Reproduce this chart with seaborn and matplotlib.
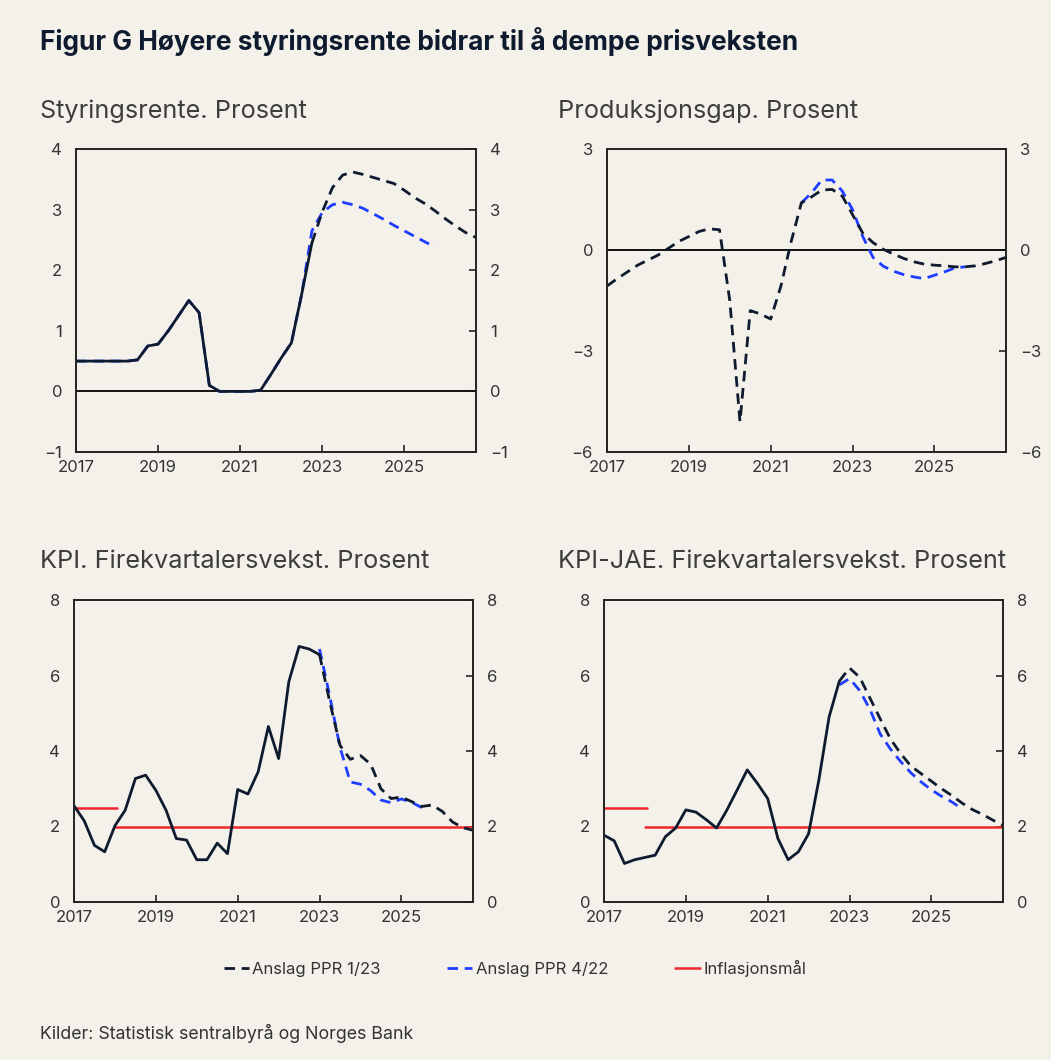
import matplotlib
matplotlib.use("Agg")
import matplotlib.pyplot as plt
from matplotlib.lines import Line2D
import pandas as pd
import seaborn as sns

# quarterly time axis 2017Q1 - 2026Q4
quarters = pd.period_range("2017Q1", "2026Q4", freq="Q")
t = quarters.year + (quarters.quarter - 1) / 4

# Styringsrente
rate_hist = [0.5, 0.5, 0.5, 0.5, 0.5, 0.5, 0.52, 0.75, 0.78, 1.0, 1.25, 1.5,
             1.3, 0.1, 0.0, 0.0, 0.0, 0.0, 0.02, 0.28, 0.55, 0.8, 1.6, 2.45]
rate_ppr123 = [2.45, 2.96, 3.36, 3.57, 3.62, 3.58, 3.53, 3.48, 3.43, 3.32,
               3.2, 3.1, 2.98, 2.85, 2.73, 2.62, 2.54]
rate_ppr422 = [0.5, 0.5, 0.5, 0.5, 0.5, 0.5, 0.52, 0.75, 0.78, 1.0, 1.25, 1.5,
               1.3, 0.1, 0.0, 0.0, 0.0, 0.0, 0.02, 0.28, 0.55, 0.8, 1.6, 2.65,
               2.95, 3.08, 3.12, 3.08, 3.02, 2.93, 2.84, 2.74, 2.65, 2.56, 2.47, 2.38]

# Produksjonsgap
gap_ppr123 = [-1.07, -0.85, -0.65, -0.45, -0.3, -0.15, 0.05, 0.25, 0.4, 0.55,
              0.63, 0.6, -1.5, -5.1, -1.8, -1.9, -2.05, -1.07, 0.25, 1.4,
              1.58, 1.78, 1.8, 1.6, 1.05, 0.5, 0.22, 0.02, -0.12, -0.25,
              -0.35, -0.42, -0.45, -0.47, -0.5, -0.5, -0.47, -0.4, -0.32, -0.22]
gap_ppr422 = [1.4, 1.7, 2.08, 2.08, 1.75, 1.2, 0.4, -0.22, -0.48, -0.63,
              -0.73, -0.8, -0.85, -0.75, -0.65, -0.53, -0.5]

# KPI
cpi_hist = [2.55, 2.15, 1.5, 1.33, 2.02, 2.43, 3.27, 3.36, 2.96, 2.43, 1.68,
            1.64, 1.12, 1.12, 1.56, 1.28, 2.98, 2.86, 3.45, 4.65, 3.8, 5.84,
            6.77, 6.7, 6.55]
cpi_ppr123 = [6.55, 5.3, 4.15, 3.78, 3.88, 3.65, 3.0, 2.74, 2.78, 2.66, 2.53,
              2.57, 2.4, 2.12, 1.97, 1.9]
cpi_ppr422 = [6.7, 5.45, 4.1, 3.18, 3.12, 2.95, 2.7, 2.63, 2.73, 2.64, 2.5]

# KPI-JAE
core_hist = [1.77, 1.62, 1.02, 1.12, 1.18, 1.24, 1.73, 1.96, 2.44, 2.38, 2.18,
             1.96, 2.43, 2.96, 3.5, 3.14, 2.74, 1.68, 1.12, 1.33, 1.81, 3.23,
             4.9, 5.85]
core_ppr123 = [5.85, 6.2, 5.95, 5.4, 4.85, 4.32, 3.93, 3.6, 3.4, 3.2, 3.0,
               2.82, 2.62, 2.45, 2.32, 2.17, 2.03]
core_ppr422 = [5.75, 5.92, 5.6, 5.1, 4.45, 4.05, 3.72, 3.42, 3.18, 2.97, 2.8,
               2.65, 2.47]

# Inflasjonsmål
target_start = [2017.0, 2018.0]
target_end = [2018.05, 2026.75]
target_value = [2.5, 2.0]

BG = "#f4f1ea"
NAVY = "#0e1a2e"
BLUE = "#1f3dff"
RED = "#f0282d"
TXT = "#333333"
DASH = (0, (3.8, 2.4))

sns.set_theme(style="ticks")
plt.rcParams["font.family"] = ["Inter", "DejaVu Sans"]
plt.rcParams["axes.facecolor"] = BG
plt.rcParams["figure.facecolor"] = BG


def qline(ax, first, values, color, dashed):
    i0 = quarters.get_loc(pd.Period(first, "Q"))
    x = t[i0:i0 + len(values)]
    sns.lineplot(x=x, y=values, ax=ax, color=color, lw=2.0,
                 linestyle=DASH if dashed else "-", legend=False)


def style_axis(ax, ylim, yticks, subtitle, sub_x):
    ax.set_xlim(2017, 2026.75)
    ax.set_ylim(*ylim)
    ax.set_yticks(yticks)
    ax.set_yticklabels(["\u2212" + str(abs(v)) if v < 0 else str(v) for v in yticks])
    ax.set_xticks([2017, 2019, 2021, 2023, 2025])
    ax.set_xticklabels(["2017", "2019", "2021", "2023", "2025"])
    ax.tick_params(axis="y", left=False, right=True, labelleft=True, labelright=True,
                   direction="in", length=5, width=1.2, pad=10, labelsize=12,
                   labelcolor=TXT)
    ax.tick_params(axis="x", direction="in", length=5, width=1.2, pad=6,
                   labelsize=12, labelcolor=TXT)
    for s in ax.spines.values():
        s.set_color("#222222")
        s.set_linewidth(1.4)
    ax.set_xlabel("")
    ax.set_ylabel("")
    ax.grid(False)
    bb = ax.get_position()
    fig.text(sub_x / 1051, bb.y1 + 38 / 1060, subtitle, fontsize=18.2,
             color="#3d3d3d", va="center", ha="left")


fig = plt.figure(figsize=(10.51, 10.60), dpi=100)
ax1 = fig.add_axes([76 / 1051, 1 - 452 / 1060, 400 / 1051, 303 / 1060])
ax2 = fig.add_axes([607 / 1051, 1 - 452 / 1060, 399 / 1051, 303 / 1060])
ax3 = fig.add_axes([74 / 1051, 1 - 902 / 1060, 399 / 1051, 302 / 1060])
ax4 = fig.add_axes([604 / 1051, 1 - 902 / 1060, 399 / 1051, 302 / 1060])

# Styringsrente
ax1.axhline(0, color="#111111", lw=1.4)
qline(ax1, "2017Q1", rate_ppr422, BLUE, True)
qline(ax1, "2017Q1", rate_hist, NAVY, False)
qline(ax1, "2022Q4", rate_ppr123, NAVY, True)
style_axis(ax1, (-1, 4), [-1, 0, 1, 2, 3, 4], "Styringsrente. Prosent", 40)

# Produksjonsgap
ax2.axhline(0, color="#111111", lw=1.4)
qline(ax2, "2021Q4", gap_ppr422, BLUE, True)
qline(ax2, "2017Q1", gap_ppr123, NAVY, True)
style_axis(ax2, (-6, 3), [-6, -3, 0, 3], "Produksjonsgap. Prosent", 558)

# KPI
for ax in (ax3, ax4):
    for x0, x1, v in zip(target_start, target_end, target_value):
        sns.lineplot(x=[x0, x1], y=[v, v], ax=ax, color=RED, lw=1.8, legend=False)
qline(ax3, "2023Q1", cpi_ppr422, BLUE, True)
qline(ax3, "2017Q1", cpi_hist, NAVY, False)
qline(ax3, "2023Q1", cpi_ppr123, NAVY, True)
style_axis(ax3, (0, 8), [0, 2, 4, 6, 8], "KPI. Firekvartalersvekst. Prosent", 40)

# KPI-JAE
qline(ax4, "2022Q4", core_ppr422, BLUE, True)
qline(ax4, "2017Q1", core_hist, NAVY, False)
qline(ax4, "2022Q4", core_ppr123, NAVY, True)
style_axis(ax4, (0, 8), [0, 2, 4, 6, 8], "KPI-JAE. Firekvartalersvekst. Prosent", 558)

fig.text(40 / 1051, 1 - 42 / 1060,
         "Figur G Høyere styringsrente bidrar til å dempe prisveksten",
         fontsize=18.9, fontweight="bold", color="#0e1a2e", va="center", ha="left")

handles = [
    Line2D([], [], color=NAVY, lw=2.0, linestyle=DASH),
    Line2D([], [], color=BLUE, lw=2.0, linestyle=DASH),
    Line2D([], [], color=RED, lw=1.8),
]
labels = ["Anslag PPR 1/23", "Anslag PPR 4/22", "Inflasjonsmål"]
fig.legend(handles, labels, loc="center", bbox_to_anchor=(0.49, 1 - 968 / 1060),
           ncol=3, frameon=False, fontsize=12, handlelength=1.5,
           handletextpad=0.2, columnspacing=4.0, labelcolor=TXT)

fig.text(40 / 1051, 1 - 1033 / 1060, "Kilder: Statistisk sentralbyrå og Norges Bank",
         fontsize=12.8, color=TXT, va="center", ha="left")

fig.savefig("out.png", dpi=100, facecolor=BG)
